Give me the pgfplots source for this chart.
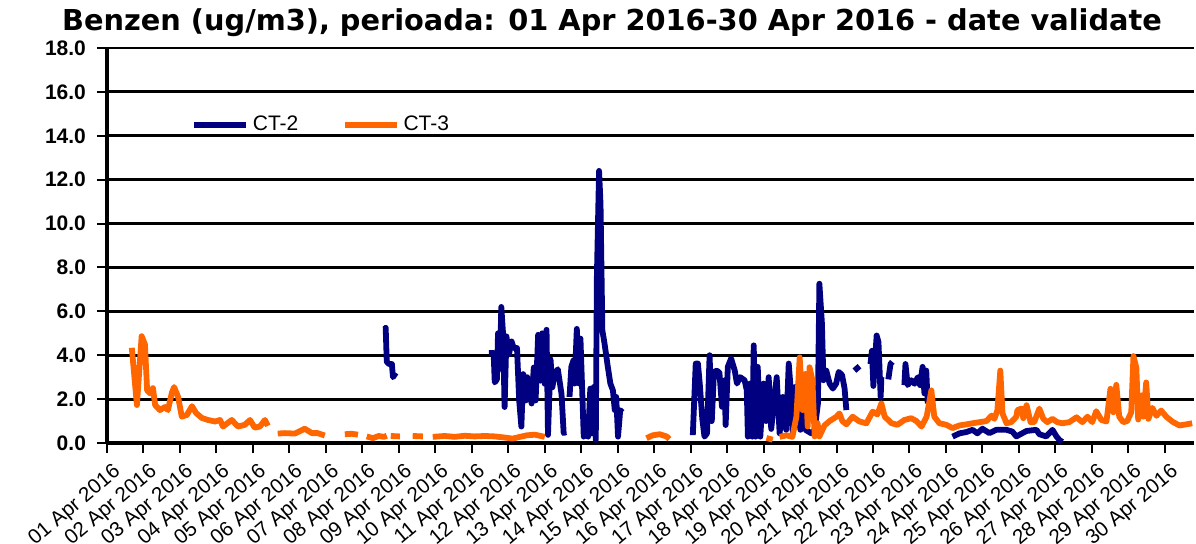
\documentclass[border=0pt]{standalone}
\usepackage{pgfplots}
\pgfplotsset{compat=1.18}
\usepackage{pgfplotstable}
\usepackage{fontspec}
\setmainfont{Liberation Sans}
\newfontfamily\titlefont{DejaVu Sans}
\definecolor{ctnavy}{RGB}{0,0,128}
\definecolor{ctorange}{RGB}{255,102,0}

\pgfplotstableread{
x y
0.68 4.34
0.82 1.73
0.95 4.87
1.04 4.5
1.10 2.4
1.18 2.26
1.26 2.5
1.32 1.73
1.45 1.5
1.59 1.64
1.67 1.5
1.78 2.3
1.84 2.55
1.95 2.1
2.05 1.2
2.19 1.28
2.33 1.68
2.44 1.37
2.60 1.14
2.77 1.05
2.96 0.98
3.10 1.05
3.18 0.75
3.42 1.05
3.59 0.75
3.78 0.83
3.92 1.05
4.05 0.7
4.19 0.75
4.33 1.05
4.41 0.78
4.50 nan
4.68 0.43
4.88 0.45
5.15 0.43
5.42 0.65
5.62 0.45
5.78 0.45
5.97 0.34
6.20 nan
6.52 0.40
6.71 0.42
6.88 0.38
7.00 nan
7.12 0.30
7.29 0.22
7.45 0.32
7.59 0.28
7.67 0.33
7.72 nan
7.78 0.32
8.03 0.30
8.20 nan
8.38 0.32
8.66 0.30
8.80 nan
8.93 0.28
9.26 0.32
9.53 0.28
9.81 0.33
10.08 0.30
10.36 0.32
10.63 0.30
10.90 0.25
11.12 0.20
11.32 0.28
11.51 0.35
11.73 0.38
12.00 0.28
12.50 nan
14.79 0.22
14.96 0.35
15.15 0.40
15.34 0.30
15.42 0.18
16.00 nan
18.08 0.23
18.25 0.15
18.35 nan
18.44 0.28
18.63 0.35
18.79 0.28
18.90 1.2
18.99 3.9
19.07 1.5
19.15 3.15
19.21 0.75
19.26 3.45
19.34 2.85
19.40 0.3
19.48 0.9
19.53 0.3
19.67 0.8
19.81 1.0
20.00 1.2
20.08 1.35
20.16 1.0
20.27 0.85
20.44 1.2
20.63 0.98
20.82 0.9
20.99 1.43
21.12 1.3
21.23 1.8
21.32 1.2
21.51 0.9
21.67 0.83
21.86 1.05
22.05 1.13
22.19 1.0
22.33 0.75
22.47 1.2
22.60 2.4
22.68 1.2
22.82 0.9
23.01 0.83
23.18 0.68
23.37 0.8
23.56 0.85
23.73 0.9
23.92 0.95
24.11 1.0
24.25 1.25
24.33 1.1
24.41 1.5
24.49 3.3
24.55 1.35
24.66 0.9
24.79 0.95
24.93 1.2
24.96 1.5
25.07 1.57
25.12 1.13
25.21 1.72
25.32 0.95
25.42 0.95
25.56 1.57
25.67 1.1
25.78 0.95
25.92 1.1
26.05 0.95
26.19 0.9
26.38 0.95
26.58 1.17
26.74 0.95
26.88 1.2
27.01 0.95
27.12 1.45
27.26 1.05
27.40 0.98
27.51 2.47
27.59 1.4
27.67 2.65
27.75 1.2
27.86 0.95
27.97 1.0
28.08 1.4
28.14 3.96
28.22 3.43
28.27 1.07
28.36 2.17
28.41 1.2
28.49 2.76
28.55 1.1
28.66 1.6
28.77 1.24
28.90 1.48
29.04 1.2
29.21 0.97
29.40 0.8
29.59 0.85
29.75 0.9
}\ctthree

\pgfplotstableread{
x y
7.62 5.2
7.64 5.25
7.67 3.7
7.73 3.6
7.81 3.6
7.84 3.0
7.92 3.2
8.50 nan
10.47 4.1
10.60 4.1
10.63 2.76
10.69 2.9
10.72 5.0
10.77 3.38
10.81 6.2
10.86 4.93
10.90 1.64
10.95 4.86
11.02 4.04
11.09 4.63
11.15 4.33
11.24 4.33
11.30 1.94
11.36 0.75
11.41 3.14
11.48 1.94
11.52 3.0
11.59 2.4
11.64 1.8
11.70 3.44
11.75 1.94
11.82 4.93
11.88 2.84
11.93 5.0
12.00 2.7
12.05 5.16
12.09 0.37
12.16 3.81
12.21 2.54
12.27 3.14
12.36 3.36
12.46 2.24
12.52 0.45
12.58 0.5
12.63 nan
12.68 2.1
12.73 3.47
12.79 3.77
12.82 2.71
12.88 5.2
12.94 2.71
12.98 4.76
13.07 0.29
13.12 1.2
13.19 0.29
13.25 2.48
13.30 0.44
13.35 2.56
13.40 0.14
13.43 7.56
13.49 12.4
13.53 10.9
13.58 5.14
13.64 4.53
13.73 3.47
13.80 2.71
13.87 2.4
13.92 1.5
13.96 2.1
14.01 0.29
14.07 1.5
14.13 1.4
15.00 nan
16.06 0.36
16.14 3.62
16.20 3.62
16.25 2.71
16.32 1.1
16.38 0.29
16.45 0.44
16.52 4.0
16.58 1.0
16.64 3.24
16.72 3.3
16.79 3.2
16.86 1.65
16.93 2.86
16.96 0.82
17.02 3.47
17.11 3.85
17.21 3.3
17.27 2.71
17.36 3.0
17.48 2.86
17.54 2.4
17.57 0.29
17.63 2.71
17.69 0.29
17.73 4.45
17.78 0.29
17.84 3.47
17.91 0.29
18.00 2.71
18.07 1.0
18.14 3.0
18.21 0.64
18.30 2.1
18.36 3.0
18.44 0.44
18.53 2.1
18.62 0.6
18.69 3.62
18.76 2.1
18.80 0.44
18.88 2.56
18.94 1.5
19.01 0.6
19.08 3.0
19.15 0.6
19.31 0.44
19.40 0.6
19.49 1.8
19.53 7.26
19.60 5.44
19.64 2.86
19.72 3.3
19.81 2.71
19.90 2.48
19.99 2.71
20.06 3.24
20.15 3.1
20.22 2.5
20.27 1.5
20.35 nan
20.49 3.3
20.63 3.5
20.80 nan
20.93 3.6
20.97 4.2
21.01 2.6
21.10 4.9
21.15 4.6
21.21 2.1
21.23 3.0
21.35 nan
21.42 2.9
21.48 3.6
21.53 3.7
21.70 nan
21.86 2.64
21.89 3.6
21.95 2.64
22.05 2.86
22.14 2.7
22.23 3.0
22.29 2.64
22.36 3.47
22.41 2.26
22.46 3.3
22.50 1.8
22.90 nan
23.18 0.29
23.37 0.44
23.56 0.5
23.73 0.6
23.86 0.44
24.00 0.65
24.19 0.45
24.38 0.6
24.47 0.6
24.66 0.6
24.82 0.52
24.93 0.3
25.21 0.55
25.48 0.6
25.56 0.4
25.75 0.3
25.92 0.6
26.03 0.3
26.11 0.14
26.19 0.05
}\cttwo

\begin{document}
\begin{tikzpicture}
\begin{axis}[
  scale only axis,
  width=543.5pt, height=197.5pt,
  xmin=0, xmax=29.8,
  ymin=0, ymax=18,
  axis lines=left,
  axis line style={line width=2pt, -},
  ytick={0,2,...,18},
  ymajorgrids,
  grid style={black, line width=1.4pt},
  yticklabel style={font=\fontsize{10.5}{12}\selectfont\bfseries, xshift=-2pt},
  /pgf/number format/assume math mode=true,
  /pgf/number format/fixed,
  /pgf/number format/precision=1,
  /pgf/number format/fixed zerofill,
  xtick={0,...,29},
  xticklabels={01 Apr 2016,02 Apr 2016,03 Apr 2016,04 Apr 2016,05 Apr 2016,06 Apr 2016,07 Apr 2016,08 Apr 2016,09 Apr 2016,10 Apr 2016,11 Apr 2016,12 Apr 2016,13 Apr 2016,14 Apr 2016,15 Apr 2016,16 Apr 2016,17 Apr 2016,18 Apr 2016,19 Apr 2016,20 Apr 2016,21 Apr 2016,22 Apr 2016,23 Apr 2016,24 Apr 2016,25 Apr 2016,26 Apr 2016,27 Apr 2016,28 Apr 2016,29 Apr 2016,30 Apr 2016},
  xticklabel style={font=\fontsize{10.3}{12}\selectfont, rotate=40, anchor=north east, inner sep=1pt, yshift=-4pt},
  tick style={black, line width=1pt},
  major tick length=5pt,
  tick align=outside,
  unbounded coords=jump,
  legend columns=2,
  legend style={draw=none, fill=none, at={(0.072,0.805)}, anchor=west,
    font=\fontsize{10.5}{12}\selectfont,
    /tikz/every even column/.append style={column sep=20pt}},
  legend cell align=left,
  legend image code/.code={\draw[#1, line width=2.6pt] (0pt,0pt) -- (26pt,0pt);},
  clip=false,
]
\addplot[ctnavy, line width=2.9pt, line join=round] table[x=x,y=y]{\cttwo};
\addlegendentry{CT-2}
\addplot[ctorange, line width=2.9pt, line join=round] table[x=x,y=y]{\ctthree};
\addlegendentry{CT-3}
\end{axis}
\node[font=\titlefont\fontsize{14.4}{16}\selectfont\bfseries] at (252.5pt,210pt) {Benzen (ug/m3), perioada: 01 Apr 2016-30 Apr 2016 - date validate};
\pgfresetboundingbox
\path[use as bounding box] (-53.5pt,-50pt) rectangle (544.5pt,221.5pt);
\end{tikzpicture}
\end{document}
